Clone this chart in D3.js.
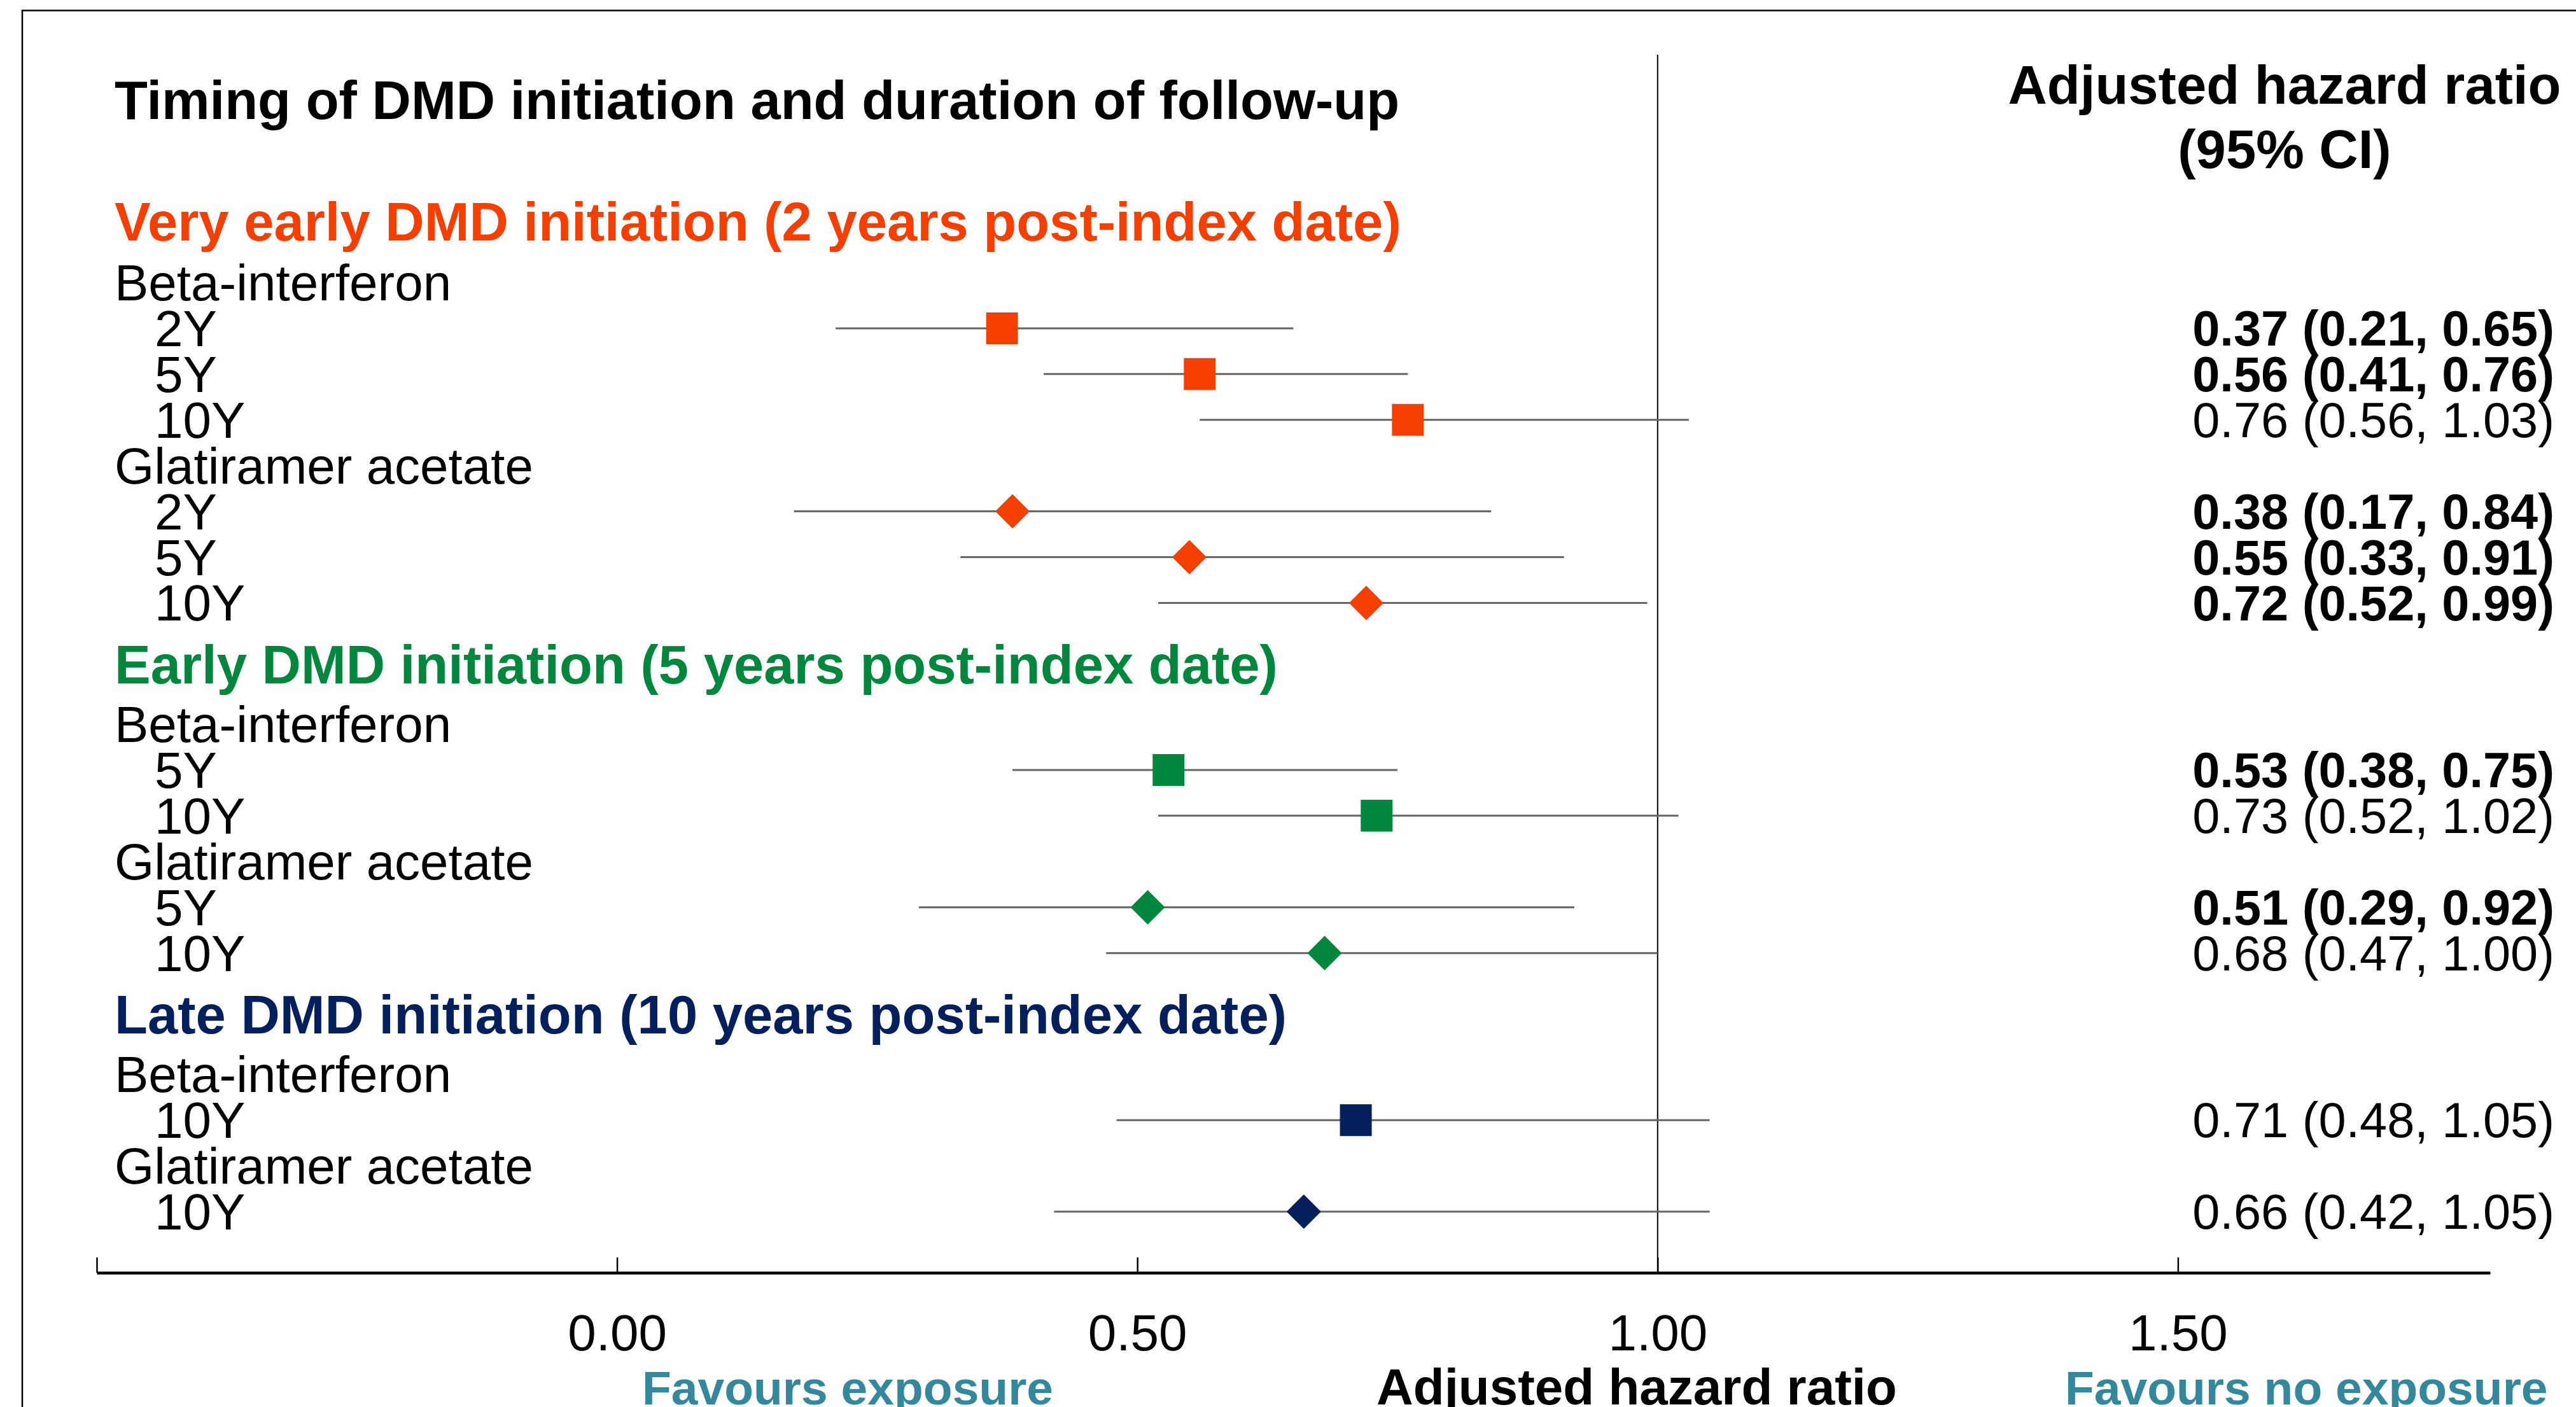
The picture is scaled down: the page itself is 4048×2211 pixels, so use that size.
<!DOCTYPE html>
<html>
<head>
<meta charset="utf-8">
<script src="https://cdn.jsdelivr.net/npm/d3@7"></script>
<style>
  html, body { margin: 0; padding: 0; background: #fff; }
  svg text { font-family: "Liberation Sans", Arial, sans-serif; }
</style>
</head>
<body>
<div id="chart"></div>
<script>
// ---- data ----
const chartTitle = "Timing of DMD initiation and duration of follow-up";
const groupLabels = [
  "Very early DMD initiation (2 years post-index date)",
  "Early DMD initiation (5 years post-index date)",
  "Late DMD initiation (10 years post-index date)"
];
const drugLabels = ["Beta-interferon", "Glatiramer acetate"];

// one entry per estimate
const rowGroup    = [0, 0, 0, 0, 0, 0, 1, 1, 1, 1, 2, 2];
const rowDrug     = [0, 0, 0, 1, 1, 1, 0, 0, 1, 1, 0, 1];
const rowFollowUp = ["2Y", "5Y", "10Y", "2Y", "5Y", "10Y", "5Y", "10Y", "5Y", "10Y", "10Y", "10Y"];
const hrValues    = [0.37, 0.56, 0.76, 0.38, 0.55, 0.72, 0.53, 0.73, 0.51, 0.68, 0.71, 0.66];
const ciLower     = [0.21, 0.41, 0.56, 0.17, 0.33, 0.52, 0.38, 0.52, 0.29, 0.47, 0.48, 0.42];
const ciUpper     = [0.65, 0.76, 1.03, 0.84, 0.91, 0.99, 0.75, 1.02, 0.92, 1.00, 1.05, 1.05];

const tickValues = [-0.5, 0, 0.5, 1, 1.5];
const xDomain = [-0.5, 1.8];

// ---- styles ----
const groupColors = ["#f43f00", "#00863d", "#03205c"];
const teal = "#35889c";
const font = '"Liberation Sans", Arial, sans-serif';

const W = 4048, H = 2211;

const svg = d3.select("#chart").append("svg")
  .attr("width", W)
  .attr("height", H);

// frame (only top and left edges are visible in the crop)
svg.append("path")
  .attr("d", `M35,${H + 10} L35,16.5 L${W + 10},16.5`)
  .attr("fill", "none")
  .attr("stroke", "#000")
  .attr("stroke-width", 2.5);

const x = d3.scaleLinear().domain(xDomain).range([152, 3913]);

// ---- build layout lines (positions in row units) ----
let lines = [];
let u = 0;
lines.push({ type: "title", u: u });
groupLabels.forEach((g, gi) => {
  u += gi === 0 ? 2.66 : 1.34;
  lines.push({ type: "group", u: u, g: gi });
  u += gi === 0 ? 1.33 : 1.31;
  let first = true;
  drugLabels.forEach((d, di) => {
    const idx = d3.range(hrValues.length).filter(i => rowGroup[i] === gi && rowDrug[i] === di);
    if (!idx.length) return;
    if (!first) u += 1;
    first = false;
    lines.push({ type: "drug", u: u, d: di });
    idx.forEach(i => {
      u += 1;
      lines.push({ type: "row", u: u, i: i });
    });
  });
});

const y = d3.scaleLinear().domain([0, u]).range([157, 1904]);

// ---- left text ----
const leftX = 180, subX = 243;

svg.append("text")
  .attr("x", leftX).attr("y", y(0)).attr("dy", "0.35em")
  .attr("font-size", 85).attr("font-weight", "bold")
  .text(chartTitle);

svg.selectAll("text.group")
  .data(lines.filter(l => l.type === "group"))
  .join("text")
  .attr("class", "group")
  .attr("x", leftX).attr("y", d => y(d.u)).attr("dy", "0.35em")
  .attr("font-size", 85).attr("font-weight", "bold")
  .attr("fill", d => groupColors[d.g])
  .text(d => groupLabels[d.g]);

svg.selectAll("text.drug")
  .data(lines.filter(l => l.type === "drug"))
  .join("text")
  .attr("class", "drug")
  .attr("x", leftX).attr("y", d => y(d.u)).attr("dy", "0.35em")
  .attr("font-size", 80)
  .text(d => drugLabels[d.d]);

const rows = lines.filter(l => l.type === "row");

svg.selectAll("text.fu")
  .data(rows)
  .join("text")
  .attr("class", "fu")
  .attr("x", subX).attr("y", d => y(d.u)).attr("dy", "0.35em")
  .attr("font-size", 80)
  .text(d => rowFollowUp[d.i]);

// ---- right column ----
const colCenter = 3590;
svg.append("text")
  .attr("x", colCenter).attr("y", 133).attr("dy", "0.35em")
  .attr("text-anchor", "middle")
  .attr("font-size", 85).attr("font-weight", "bold")
  .text("Adjusted hazard ratio");
svg.append("text")
  .attr("x", colCenter).attr("y", 234).attr("dy", "0.35em")
  .attr("text-anchor", "middle")
  .attr("font-size", 85).attr("font-weight", "bold")
  .text("(95% CI)");

const f2 = d3.format(".2f");
svg.selectAll("text.val")
  .data(rows)
  .join("text")
  .attr("class", "val")
  .attr("x", 4014).attr("y", d => y(d.u)).attr("dy", "0.35em")
  .attr("text-anchor", "end")
  .attr("font-size", 77.5)
  .attr("font-weight", d => ciUpper[d.i] < 1 ? "bold" : "normal")
  .text(d => `${f2(hrValues[d.i])} (${f2(ciLower[d.i])}, ${f2(ciUpper[d.i])})`);

// ---- axis ----
const axisY = 2000;
const axis = d3.axisBottom(x)
  .tickValues(tickValues)
  .tickSize(-24)
  .tickSizeOuter(0)
  .tickPadding(65)
  .tickFormat(d => d < 0 ? "" : f2(d));

const gAxis = svg.append("g")
  .attr("transform", `translate(0,${axisY})`)
  .call(axis);
gAxis.select(".domain").attr("stroke-width", 4.5).attr("stroke", "#000");
gAxis.selectAll(".tick line").attr("stroke-width", 2.5).attr("stroke", "#000");
gAxis.selectAll(".tick text")
  .attr("font-size", 80)
  .attr("font-family", font)
  .attr("fill", "#000");

// reference line at HR = 1
svg.append("line")
  .attr("x1", x(1)).attr("x2", x(1))
  .attr("y1", 86).attr("y2", axisY)
  .attr("stroke", "#000").attr("stroke-width", 2);

// ---- CIs and point estimates ----
svg.selectAll("line.ci")
  .data(rows)
  .join("line")
  .attr("class", "ci")
  .attr("x1", d => x(ciLower[d.i])).attr("x2", d => x(ciUpper[d.i]))
  .attr("y1", d => y(d.u)).attr("y2", d => y(d.u))
  .attr("stroke", "#666").attr("stroke-width", 3);

const squareSym = d3.symbol().type(d3.symbolSquare).size(2500);
const diamondSym = d3.symbol().type(d3.symbolSquare).size(1460);

svg.selectAll("path.pt")
  .data(rows)
  .join("path")
  .attr("class", "pt")
  .attr("d", d => rowDrug[d.i] === 0 ? squareSym() : diamondSym())
  .attr("transform", d => `translate(${x(hrValues[d.i])},${y(d.u)})` + (rowDrug[d.i] === 1 ? " rotate(45)" : ""))
  .attr("fill", d => groupColors[rowGroup[d.i]]);

// ---- bottom labels ----
svg.append("text")
  .attr("x", 1009).attr("y", 2207)
  .attr("font-size", 75).attr("font-weight", "bold")
  .attr("fill", teal)
  .text("Favours exposure");
svg.append("text")
  .attr("x", 2163).attr("y", 2207)
  .attr("font-size", 80).attr("font-weight", "bold")
  .text("Adjusted hazard ratio");
svg.append("text")
  .attr("x", 3245).attr("y", 2207)
  .attr("font-size", 75).attr("font-weight", "bold")
  .attr("fill", teal)
  .text("Favours no exposure");
</script>
</body>
</html>
